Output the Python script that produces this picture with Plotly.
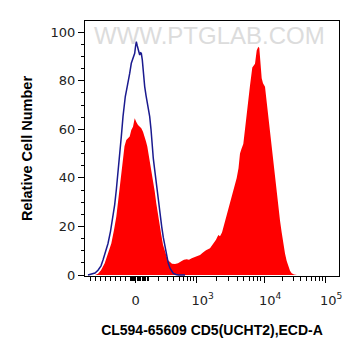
import numpy as np
import plotly.graph_objects as go

# ---- data (x in display-channel units of the biexponential axis, y = % of max) ----
red_x = [0, 10, 13, 16, 19.7, 23, 26.3, 29, 31.3, 33, 34.7, 36.5, 38, 39.5, 41.3, 43, 44.7, 46.3, 48, 49.7,
         50.5, 51.3, 53, 54.7, 56.3, 58, 59.7, 61, 62.3, 64.7, 66.5, 68, 69.7, 71.3, 73, 74.7, 76.3, 78, 80,
         81.7, 83.3, 85, 87, 90, 93, 96.7, 99, 101.7, 104, 106.7, 110, 113, 115, 118, 121, 125, 128, 131,
         133.3, 135, 137, 140, 143.3, 146.7, 149, 151.7, 153.5, 155, 156.5, 158.3, 160, 161.7, 163.5, 165,
         167.3, 169, 170, 171.7, 173.3, 174.3, 175, 176.7, 178, 180, 181.5, 183.3, 185, 186.7, 188.3, 190,
         191.7, 193.3, 195, 196.7, 198.3, 200, 201.7, 203.3, 205, 206.7, 209, 212, 254]
red_y = [0, 0, 0.5, 2, 4.8, 8.5, 13, 18.5, 24, 30, 36.4, 43, 48.7, 53, 55.6, 56.5, 57, 59.7, 61.1, 64.6,
         63.5, 63, 61.8, 61, 60.4, 59, 57, 55, 52.9, 47.4, 43, 39.1, 34.5, 29.5, 24.5, 19.9, 16.5, 12.5, 9.5,
         7.5, 6, 5.2, 4.6, 4.5, 4.8, 5.8, 6.3, 6.5, 6.3, 6.9, 7.5, 7.8, 8.2, 9.3, 10.2, 11, 12.8, 14.5,
         16.5, 16, 17.5, 22, 27.5, 32, 36, 40, 44, 50, 52, 54, 60, 67, 73, 78,
         85.5, 86.5, 87, 92.5, 94, 93.5, 89, 81, 79, 77.5, 72, 65.2, 59, 52.9, 46.5, 40,
         34, 28, 22.5, 17.5, 12.5, 8.9, 5.8, 3.4, 1.8, 0.7, 0.2, 0, 0]

blue_x = [3, 7, 10, 13, 16, 18, 20.5, 23, 25.5, 28, 29.7, 31.3, 33, 34.7, 36.3, 38, 39, 40.3, 41.5, 43,
          44.7, 46.3, 48, 49.7, 50.5, 51.3, 52.2, 53, 54, 54.7, 55.5, 56.3, 57.3, 58.5, 59.7, 61, 62.3,
          63.5, 64.7, 66, 67, 68.3, 69.7, 71.3, 73.3, 75, 76.7, 78.3, 80, 81.7, 83.3, 85, 86.7, 88.3, 91,
          93.3, 100]
blue_y = [0, 0.3, 0.8, 2, 3.8, 6.2, 9.5, 13, 18, 24, 29, 35, 41.5, 48.7, 57, 65.2, 70, 73.5, 76, 79,
          83, 87.2, 89.5, 91.3, 94, 96.1, 94.5, 93.4, 91.5, 90.6, 91.5, 91.3, 88.6, 82, 77.6, 74, 71.4,
          68, 65.2, 60, 54.3, 48, 43.3, 37.5, 30.9, 25.5, 19.9, 15.5, 11.7, 8, 4.8, 2.8, 1.5, 0.7, 0.2,
          0, 0]

major_values = [0, 1e3, 1e4, 1e5]
major_labels = ["0", "\u00a0\u00a0\u00a010<sup>3</sup>", "\u00a0\u00a0\u00a010<sup>4</sup>",
                "\u00a0\u00a0\u00a010<sup>5</sup>"]
minor_values = ([-v for v in range(100, 1000, 100)] + [-v for v in range(10, 100, 10)] +
                list(range(10, 100, 10)) + list(range(100, 1000, 100)) +
                list(range(2000, 10000, 1000)) + list(range(20000, 100000, 10000)))
y_ticks = [0, 20, 40, 60, 80, 100]


def to_channel(v):
    """biexponential display transform used by the axis"""
    if v < 0:
        return 50.7 + v * 0.0507
    if v <= 1000:
        return 50.7 + 60.8 * np.arcsinh(v / 200) / np.arcsinh(5)
    return float(np.interp(np.log10(v), [3, 4, 5], [111.5, 179, 240]))


fig = go.Figure()
fig.add_trace(go.Scatter(x=red_x, y=red_y, mode="lines", fill="tozeroy",
                         fillcolor="#ff0000", line=dict(width=0, color="#ff0000"),
                         hoverinfo="skip", showlegend=False))
fig.add_trace(go.Scatter(x=blue_x, y=blue_y, mode="lines",
                         line=dict(width=1.5, color="#1a1a8f"),
                         hoverinfo="skip", showlegend=False))

font_ticks = dict(family="DejaVu Sans", size=13, color="#222222")
# page body has an 8px default margin, so the figure is 8px smaller and margins are offset
fig.update_layout(
    width=353, height=348,
    margin=dict(l=77, r=22, t=13, b=80),
    paper_bgcolor="white", plot_bgcolor="white",
    xaxis=dict(range=[0, 254], showgrid=False, zeroline=False,
               showline=True, linecolor="black", linewidth=1, mirror=True,
               tickmode="array", tickvals=[to_channel(v) for v in major_values],
               ticktext=major_labels, ticks="outside", ticklen=6, tickcolor="black",
               tickfont=font_ticks, ticklabelstandoff=6,
               minor=dict(tickmode="array", tickvals=[to_channel(v) for v in minor_values],
                          ticks="outside", ticklen=4, tickcolor="black", showgrid=False),
               title=dict(text="<b>CL594-65609 CD5(UCHT2),ECD-A</b>", standoff=18,
                          font=dict(family="Liberation Sans", size=14, color="black"))),
    yaxis=dict(range=[-0.4, 104.6], showgrid=False, zeroline=False,
               showline=True, linecolor="black", linewidth=1, mirror=True,
               tickmode="array", tickvals=y_ticks, ticktext=[str(v) for v in y_ticks],
               ticks="outside", ticklen=6, tickcolor="black", tickfont=font_ticks,
               minor=dict(dtick=5, ticks="outside", ticklen=3, tickcolor="black", showgrid=False),
               title=dict(text="<b>Relative Cell Number</b>", standoff=14,
                          font=dict(family="Liberation Sans", size=14.5, color="black"))),
    annotations=[dict(text="WWW.PTGLAB.COM", xref="paper", yref="paper", x=0.49, y=0.945,
                      showarrow=False, xanchor="center", yanchor="middle",
                      font=dict(family="Liberation Sans", size=24, color="#dcdcdc"))],
)

fig.write_html("out.html")
